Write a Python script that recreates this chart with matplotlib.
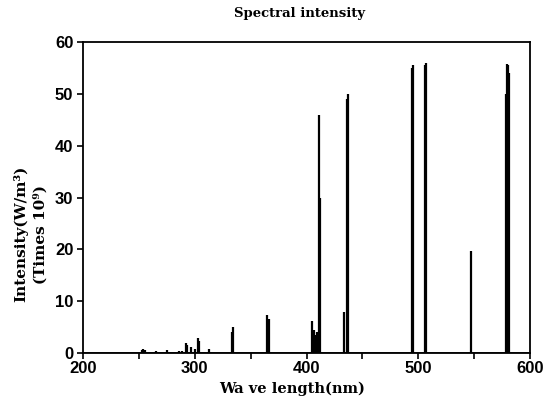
import matplotlib
matplotlib.use("Agg")
import matplotlib.pyplot as plt

# strong emission lines (nm, intensity)
strong_wl = [411.5, 412.5, 434.0, 436.0, 436.8, 494.0, 495.0, 506.0, 507.0, 578.5, 579.5, 580.5, 581.5, 547.0]
strong_int = [46.0, 30.0, 8.0, 49.0, 50.0, 55.0, 55.6, 55.6, 56.0, 50.0, 55.8, 55.6, 54.0, 19.6]

# weaker lines
weak_wl = [252.5, 254.0, 255.5, 265.0, 275.0, 285.5, 289.0, 292.5, 293.5, 296.5, 300.0, 302.5, 303.5,
           313.0, 333.0, 334.0, 365.0, 366.0, 404.5, 405.5, 407.0, 408.0, 409.5, 410.5]
weak_int = [0.5, 0.8, 0.6, 0.3, 0.6, 0.3, 0.4, 2.0, 1.6, 1.2, 0.8, 2.8, 2.4,
            0.8, 4.0, 5.0, 7.3, 6.5, 6.2, 3.0, 4.5, 3.5, 4.0, 3.2]

x_ticks = [200, 300, 400, 500, 600]
x_minor = [250, 350, 450, 550]
y_ticks = [0, 10, 20, 30, 40, 50, 60]

fig = plt.figure(figsize=(5.52, 4.04), dpi=100)
ax = fig.add_axes([83 / 552, 1 - 353 / 404, (530 - 83) / 552, (353 - 42) / 404])

ax.vlines(strong_wl, 0, strong_int, colors="black", linewidth=1.6)
ax.vlines(weak_wl, 0, weak_int, colors="black", linewidth=1.6)
ax.axhline(0, color="black", linewidth=1.2)

ax.set_xlim(200, 600)
ax.set_ylim(0, 60)
ax.set_xticks(x_ticks)
ax.set_xticks(x_minor, minor=True)
ax.set_yticks(y_ticks)

tick_font = dict(family="Liberation Sans", weight="bold", size=12)
ax.set_xticklabels([str(v) for v in x_ticks], fontdict=tick_font)
ax.set_yticklabels([str(v) for v in y_ticks], fontdict=tick_font)
ax.tick_params(axis="both", which="both", direction="out", length=4, width=1.2, pad=3)
ax.tick_params(axis="x", which="both", pad=1.5)
for s in ax.spines.values():
    s.set_linewidth(1.3)

serif = dict(family="DejaVu Serif", weight="bold")
fig.text(300 / 552, 1 - 14 / 404, "Spectral intensity", ha="center", va="center", size=9.5, **serif)
fig.text(292 / 552, 1 - 389 / 404, "Wa ve length(nm)", ha="center", va="center", size=10.5, **serif)
fig.text(21 / 552, 1 - 234 / 404, "Intensity(W/m³)", ha="center", va="center", rotation=90, size=11, **serif)
fig.text(40 / 552, 1 - 234 / 404, "(Times 10⁹)", ha="center", va="center", rotation=90, size=11, **serif)

fig.savefig("out.png", dpi=100)
